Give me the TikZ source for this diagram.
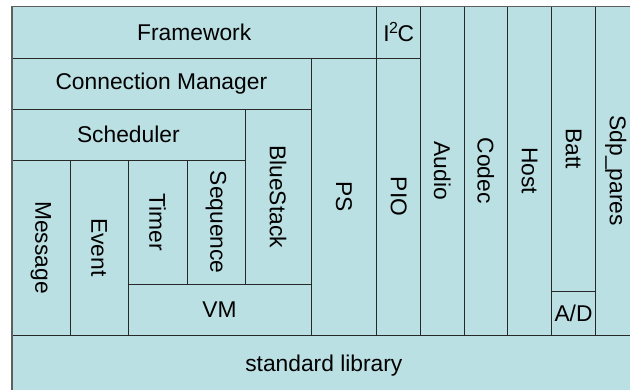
\documentclass[tikz,border=0pt]{standalone}
\usepackage{fontspec}
\setmainfont{Liberation Sans}
\definecolor{cellfill}{RGB}{187, 224, 227}
\definecolor{cellline}{RGB}{40, 40, 40}
\definecolor{outerline}{RGB}{95, 95, 95}

\tikzset{
  cell/.style={draw=cellline, fill=cellfill, line width=0.9pt, inner sep=0pt,
    font=\fontsize{22.8}{26}\selectfont},
  vcell/.style={cell, rotate=-90},
}

\begin{document}
\begin{tikzpicture}[x=1pt, y=-1pt]
  \useasboundingbox (0,0) rectangle (630,390);
  \clip (0,0) rectangle (630,390);

  % top rows
  \node[cell, minimum width=365pt, minimum height=51.5pt] (framework) at (194.2, 32.25) {Framework};
  \node[cell, minimum width=44pt, minimum height=51.5pt] (i2c) at (398.7, 32.25) {I\kern-0.5pt\textsuperscript{2}\kern-1pt C};
  \node[cell, minimum width=299.3pt, minimum height=51pt] (connmgr) at (161.35, 83.5) {Connection Manager};
  \node[cell, minimum width=233.3pt, minimum height=51pt] (scheduler) at (128.35, 134.5) {Scheduler};

  % scheduler parts
  \node[vcell, minimum width=175pt, minimum height=58.3pt] (message) at (40.85, 247.5) {Message};
  \node[vcell, minimum width=175pt, minimum height=58pt] (event) at (99, 247.5) {Event};
  \node[vcell, minimum width=124.3pt, minimum height=59pt] (timer) at (157.5, 222.15) {Timer};
  \node[vcell, minimum width=124.3pt, minimum height=58pt] (sequence) at (216, 222.15) {Sequence};
  \node[vcell, minimum width=175.3pt, minimum height=66pt] (bluestack) at (278, 196.65) {BlueStack};
  \node[cell, minimum width=183pt, minimum height=50.7pt] (vm) at (219.5, 309.65) {VM};

  % columns on the right
  \node[vcell, minimum width=277pt, minimum height=65.7pt] (ps) at (343.85, 196.5) {PS};
  \node[vcell, minimum width=277pt, minimum height=44pt] (pio) at (398.7, 196.5) {PIO};
  \node[vcell, minimum width=328.5pt, minimum height=43.3pt] (audio) at (442.35, 170.75) {Audio};
  \node[vcell, minimum width=328.5pt, minimum height=43.7pt] (codec) at (485.85, 170.75) {Codec};
  \node[vcell, minimum width=328.5pt, minimum height=44pt] (host) at (529.7, 170.75) {Host};
  \node[vcell, minimum width=284.8pt, minimum height=43.6pt] (batt) at (573.5, 148.9) {Batt};
  \node[cell, minimum width=43.6pt, minimum height=43.7pt] (ad) at (573.5, 313.15) {A/D};
  \node[vcell, minimum width=328.5pt, minimum height=40.7pt] (sdp) at (615.65, 170.75) {Sdp\_pares};

  % bottom
  \node[cell, minimum width=624.3pt, minimum height=61pt] (stdlib) at (323.85, 365.5) {standard library};

  % outer edge
  \draw[outerline, line width=1.6pt] (11.7, 396) -- (11.7, 6.5) -- (636, 6.5);
\end{tikzpicture}
\end{document}
